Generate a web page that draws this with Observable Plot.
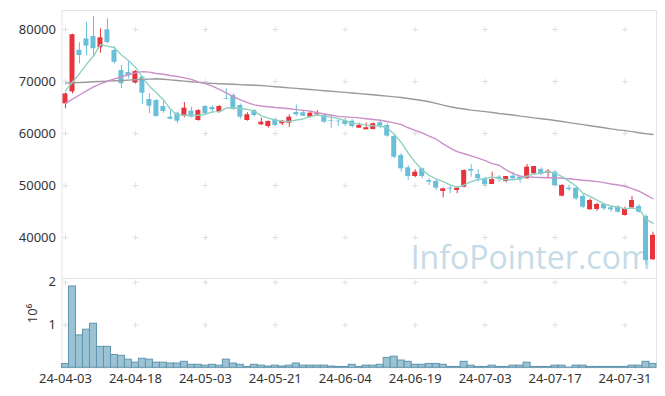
<!DOCTYPE html>
<html><head><meta charset="utf-8">
<script src="https://cdn.jsdelivr.net/npm/d3@7"></script>
<script src="https://cdn.jsdelivr.net/npm/@observablehq/plot@0.6"></script>
<style>
html,body{margin:0;padding:0;background:#fff;}
#chart svg{display:block;}
#chart svg.vol{overflow:visible;position:relative;}
</style></head><body><div id="chart"></div>
<script>
const dates = [
"2024-04-03","2024-04-04","2024-04-05","2024-04-08","2024-04-09","2024-04-11","2024-04-12","2024-04-15","2024-04-16","2024-04-17",
"2024-04-18","2024-04-19","2024-04-22","2024-04-23","2024-04-24","2024-04-25","2024-04-26","2024-04-29","2024-04-30","2024-05-02",
"2024-05-03","2024-05-07","2024-05-08","2024-05-09","2024-05-10","2024-05-13","2024-05-14","2024-05-16","2024-05-17","2024-05-20",
"2024-05-21","2024-05-22","2024-05-23","2024-05-24","2024-05-27","2024-05-28","2024-05-29","2024-05-30","2024-05-31","2024-06-03",
"2024-06-04","2024-06-05","2024-06-07","2024-06-10","2024-06-11","2024-06-12","2024-06-13","2024-06-14","2024-06-17","2024-06-18",
"2024-06-19","2024-06-20","2024-06-21","2024-06-24","2024-06-25","2024-06-26","2024-06-27","2024-06-28","2024-07-01","2024-07-02",
"2024-07-03","2024-07-04","2024-07-05","2024-07-08","2024-07-09","2024-07-10","2024-07-11","2024-07-12","2024-07-15","2024-07-16",
"2024-07-17","2024-07-18","2024-07-19","2024-07-22","2024-07-23","2024-07-24","2024-07-25","2024-07-26","2024-07-29","2024-07-30",
"2024-07-31","2024-08-01","2024-08-02","2024-08-05","2024-08-06"];

const open = [65700,68000,76000,78200,78650,76500,79940,75960,72100,71730,
69700,70830,66540,66350,65190,63140,63900,63460,64300,62500,
65190,65000,64100,66730,67310,65380,62500,64420,61670,61350,
62630,61870,61980,64040,63980,63140,63600,63460,62500,62370,
62500,62370,61020,60710,60770,62060,61540,59420,55770,53400,
51730,53210,50960,50770,48850,49480,49040,49680,53080,52110,
51290,50190,51600,50770,51800,51600,51290,52250,53080,52370,
52560,47950,49480,49480,47880,45330,45390,46350,45710,45830,
44230,45710,45960,44040,35710];

const high = [67800,79100,77440,81400,82500,80130,82050,76700,73080,73700,
72100,71000,67640,66500,66210,64420,64100,65960,65060,64600,
65380,65380,65380,68600,67640,65710,64000,64600,62950,62400,
62950,62500,63590,65520,64420,64300,64420,63790,63600,62630,
62950,62630,62000,62000,62060,62600,61900,59800,56100,53800,
53020,53400,51300,51000,49500,49800,49800,53020,54040,53020,
51600,52560,51900,51730,52560,51900,54040,53660,53400,53020,
52880,50200,50000,49680,48270,47440,46600,46600,45960,46150,
45830,47880,46350,44360,41020];

const low = [64750,67600,73400,75000,74700,75450,77250,73400,68600,70500,
69560,65520,63800,63140,63900,62630,61870,63010,63010,62370,
63460,63900,63900,66480,64420,62750,62370,63140,61540,61020,
61350,61540,61210,63270,63270,62950,63270,61980,61020,61350,
61350,61020,61020,60710,60700,60900,59300,55140,52560,50960,
51480,51300,50000,49040,47630,48400,48400,49550,51600,50640,
49810,50190,50640,50500,51000,50450,51290,51920,51920,51290,
49870,47800,48850,47120,45520,45190,45060,45190,44870,44680,
44100,45520,44680,34620,35600];

const close = [67600,79000,75000,76800,76300,78400,77500,73700,69560,71100,
71900,67750,65250,63270,64230,62750,62370,64870,63140,64420,
63790,64560,65190,66600,64620,63140,63600,63460,62170,62310,
61540,62370,63140,63600,63330,63900,63790,62170,62370,62250,
61730,61350,61540,61100,61870,61410,59490,55440,53210,51730,
52560,51730,50640,49480,49360,49290,49480,52880,52750,51290,
50130,51150,51290,51730,51290,51090,53530,53660,52110,52750,
50000,50000,49230,47440,45830,47120,46350,45520,45330,44870,
45390,47120,44870,35580,40420];

const volume = [87000,1900000,757000,890000,1030000,490000,490000,300000,280000,190000,
120000,210000,190000,120000,120000,100000,100000,140000,70000,70000,
50000,70000,50000,190000,100000,70000,20000,70000,50000,30000,
50000,30000,50000,100000,50000,50000,50000,50000,30000,20000,
20000,70000,20000,50000,50000,70000,230000,260000,170000,140000,
70000,70000,90000,90000,70000,20000,20000,140000,50000,20000,
20000,50000,20000,20000,50000,50000,120000,20000,20000,20000,
50000,50000,5000,50000,50000,20000,20000,20000,20000,20000,
20000,50000,50000,140000,90000];

const ma5 = [68200,69900,71500,73300,74900,77100,76800,76500,75100,74050,
72750,70800,69100,67850,66500,64650,63550,63500,63450,63500,
63700,64150,64200,64900,64950,64800,64650,64300,63400,62950,
62600,62350,62300,62600,62800,63250,63550,63350,63100,62900,
62450,61950,61850,61600,61500,61450,61100,59850,58300,56250,
54500,52950,51950,51250,50750,50100,49650,50100,50750,51150,
51300,51650,51300,51100,51100,51300,51800,52250,52350,52650,
52400,51700,50800,49900,48500,47900,47200,46450,46050,45850,
45500,45650,45500,43550,42700];

const ma20 = [65800,66600,67400,68200,68950,69550,70050,70500,70900,71300,
71650,71900,71800,71550,71400,71150,70950,70700,70400,69900,
69600,69100,68500,67800,67100,66450,65950,65500,65300,65150,
65000,64900,64750,64600,64450,64300,64000,63750,63500,63300,
63200,63100,63000,62850,62700,62550,62300,62050,61700,61100,
60600,60100,59500,58900,58000,57200,56500,56100,55700,55250,
54800,54200,53900,53000,52300,51800,51700,51600,51550,51500,
51480,51400,51300,51150,51000,50900,50750,50550,50300,50100,
49850,49400,48900,48200,47450];

const ma120 = [69680,69740,69810,69870,69940,70000,70070,70130,70200,70260,
70330,70390,70460,70520,70430,70320,70200,70080,69950,69830,
69700,69640,69580,69520,69460,69400,69340,69290,69230,69120,
69000,68900,68780,68670,68560,68450,68340,68230,68120,68000,
67900,67780,67660,67550,67450,67320,67180,67050,66920,66720,
66530,66350,66100,65800,65450,65150,64900,64700,64500,64350,
64200,64050,63850,63700,63550,63350,63200,63000,62850,62700,
62500,62300,62100,61900,61700,61500,61300,61100,60900,60700,
60550,60350,60150,59950,59800];

const priceTicks = [40000, 50000, 60000, 70000, 80000];
const volumeTicks = [1000000, 2000000];
const tickDates = ["2024-04-03","2024-04-18","2024-05-03","2024-05-21","2024-06-04","2024-06-19","2024-07-03","2024-07-17","2024-07-31"];
const watermark = "InfoPointer.com";

const UP = "#e8333c", DOWN = "#69bfd9";
const rows = dates.map((d, i) => ({
  date: d, open: open[i], high: high[i], low: low[i], close: close[i],
  volume: volume[i], ma5: ma5[i], ma20: ma20[i], ma120: ma120[i],
  color: close[i] >= open[i] ? UP : DOWN
}));
const crossTop = tickDates.flatMap(d => priceTicks.map(v => ({date: d, v})));
const crossVol = tickDates.flatMap(d => volumeTicks.map(v => ({date: d, v})));

const W = 665, ML = 61.5, MR = 9;
const style = {fontFamily: "'Noto Sans', sans-serif", fontSize: "13px", color: "#333", background: "#fff"};

const topPlot = Plot.plot({
  width: W, height: 278, marginTop: 10, marginBottom: 0, marginLeft: ML, marginRight: MR,
  style,
  x: {type: "band", domain: dates, padding: 0, axis: null},
  y: {domain: [32115, 83654], ticks: priceTicks, tickFormat: d3.format("d"), tickSize: 0, tickPadding: 6, label: null},
  marks: [
    Plot.frame({stroke: "#e4e4e4"}),
    Plot.dot(crossTop, {x: "date", y: "v", symbol: "plus", r: 2, stroke: "#e0e0e0", strokeWidth: 1}),
    Plot.text([watermark], {frameAnchor: "bottom-right", dx: -6, dy: -10, fontSize: 32, letterSpacing: -1, fill: "#c6dbe6", fontFamily: "'Open Sans', sans-serif"}),
    Plot.ruleX(rows, {x: "date", y1: "low", y2: "high", stroke: "color", strokeWidth: 1}),
    Plot.barY(rows, {x: "date", y1: "open", y2: "close", fill: "color", insetLeft: 1, insetRight: 1}),
    Plot.line(rows, {x: "date", y: "ma120", stroke: "#9a9a9a", strokeWidth: 1.4}),
    Plot.line(rows, {x: "date", y: "ma20", stroke: "#cc90c8", strokeWidth: 1.4}),
    Plot.line(rows, {x: "date", y: "ma5", stroke: "#8fd1c0", strokeWidth: 1.4})
  ]
});

const volPlot = Plot.plot({
  width: W, height: 118, marginTop: 0, marginBottom: 28.7, marginLeft: ML, marginRight: MR,
  style: {...style, overflow: "visible"},
  className: "vol",
  x: {type: "band", domain: dates, padding: 0, ticks: tickDates, tickFormat: d => d.slice(2), tickSize: 0, tickPadding: 6, label: null},
  y: {domain: [0, 2087000], ticks: volumeTicks, tickFormat: d => String(d / 1000000), tickSize: 0, tickPadding: 6, label: null},
  marks: [
    Plot.frame({stroke: "#e4e4e4"}),
    Plot.dot(crossVol, {x: "date", y: "v", symbol: "plus", r: 2, stroke: "#e0e0e0", strokeWidth: 1}),
    Plot.barY(rows, {x: "date", y: "volume", fill: "#9cc3d4", stroke: "#5f95ae", strokeWidth: 1}),
    Plot.text(["10⁶"], {frameAnchor: "left", dx: -29, rotate: -90, fontSize: 13, fill: "#333"})
  ]
});

const el = document.getElementById("chart");
el.appendChild(topPlot);
el.appendChild(volPlot);
volPlot.classList.add("vol");
</script>
</body></html>
